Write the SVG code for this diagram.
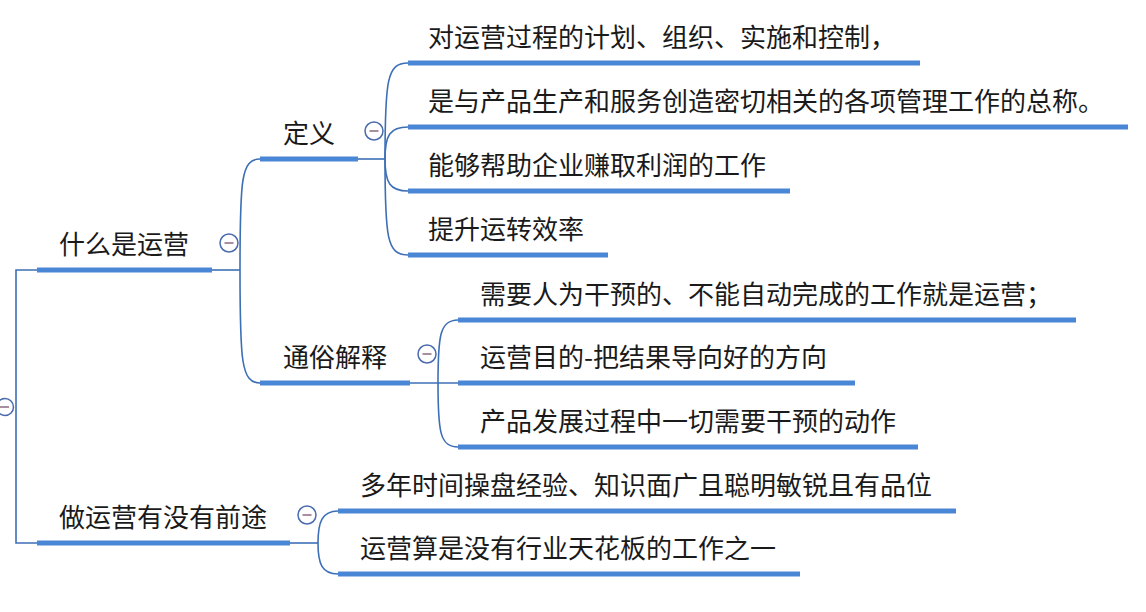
<svg xmlns="http://www.w3.org/2000/svg" width="1146" height="612" viewBox="0 0 1146 612">
<style>
.t{font-family:"Microsoft YaHei","Noto Sans CJK SC","Noto Sans",sans-serif;font-size:26px;fill:#1a1a1a}
.u{stroke:#4a86d6;stroke-width:5;fill:none}
.c{stroke:#3d6fb6;stroke-width:1.6;fill:none}
.k circle{fill:#fff;stroke:#4a6aad;stroke-width:1.5}
.k line{stroke:#8a6a80;stroke-width:1.5}
</style>
<rect width="1146" height="612" fill="#fff"/>
<g id="connectors">
<path class="c" d="M37,270 H16 V543 H37"/>
<path class="c" d="M212,270 H240"/>
<path class="c" d="M290,543 H318"/>
<path class="c" d="M358,159 H385"/>
<path class="c" d="M410,383 H458"/>
<path class="c" d="M240,270 C240,180 241,159 260,159"/>
<path class="c" d="M240,270 C240,360 241,383 260,383"/>
<path class="c" d="M385,159 C385,80 387,63 408,63"/>
<path class="c" d="M385,159 C385,135 390,127 408,127"/>
<path class="c" d="M385,159 C385,183 390,191 408,191"/>
<path class="c" d="M385,159 C385,238 387,255 408,255"/>
<path class="c" d="M438,383 C438,335 440,320 458,320"/>
<path class="c" d="M438,383 C438,432 440,447 458,447"/>
<path class="c" d="M318,543 C318,522 322,511 338,511"/>
<path class="c" d="M318,543 C318,564 322,574 338,574"/>
</g>
<g id="root" class="k">
<circle cx="5" cy="407" r="8.5"/>
<line x1="0" y1="407" x2="9" y2="407"/>
</g>
<g id="n-what">
<text class="t" x="59" y="254">什么是运营</text>
<path class="u" d="M37,270 H212"/>
<g class="k"><circle cx="229" cy="243" r="9"/><line x1="224.5" y1="243" x2="233.5" y2="243"/></g>
</g>
<g id="n-future">
<text class="t" x="59" y="527">做运营有没有前途</text>
<path class="u" d="M37,543 H290"/>
<g class="k"><circle cx="307" cy="515" r="9"/><line x1="302.5" y1="515" x2="311.5" y2="515"/></g>
</g>
<g id="n-def">
<text class="t" x="283" y="143">定义</text>
<path class="u" d="M260,159 H358"/>
<g class="k"><circle cx="374" cy="131" r="9"/><line x1="369.5" y1="131" x2="378.5" y2="131"/></g>
</g>
<g id="n-plain">
<text class="t" x="283" y="367">通俗解释</text>
<path class="u" d="M260,383 H410"/>
<g class="k"><circle cx="427" cy="354" r="9"/><line x1="422.5" y1="354" x2="431.5" y2="354"/></g>
</g>
<g id="d1">
<text class="t" x="428" y="47">对运营过程的计划、组织、实施和控制，</text>
<path class="u" d="M408,63 H920"/>
</g>
<g id="d2">
<text class="t" x="428" y="111">是与产品生产和服务创造密切相关的各项管理工作的总称。</text>
<path class="u" d="M408,127 H1128"/>
</g>
<g id="d3">
<text class="t" x="428" y="175">能够帮助企业赚取利润的工作</text>
<path class="u" d="M408,191 H790"/>
</g>
<g id="d4">
<text class="t" x="428" y="239">提升运转效率</text>
<path class="u" d="M408,255 H608"/>
</g>
<g id="p1">
<text class="t" x="480" y="304">需要人为干预的、不能自动完成的工作就是运营；</text>
<path class="u" d="M458,320 H1076"/>
</g>
<g id="p2">
<text class="t" x="480" y="367">运营目的-把结果导向好的方向</text>
<path class="u" d="M458,383 H855"/>
</g>
<g id="p3">
<text class="t" x="480" y="431">产品发展过程中一切需要干预的动作</text>
<path class="u" d="M458,447 H918"/>
</g>
<g id="f1">
<text class="t" x="360" y="495">多年时间操盘经验、知识面广且聪明敏锐且有品位</text>
<path class="u" d="M338,511 H956"/>
</g>
<g id="f2">
<text class="t" x="360" y="558">运营算是没有行业天花板的工作之一</text>
<path class="u" d="M338,574 H800"/>
</g>
</svg>
